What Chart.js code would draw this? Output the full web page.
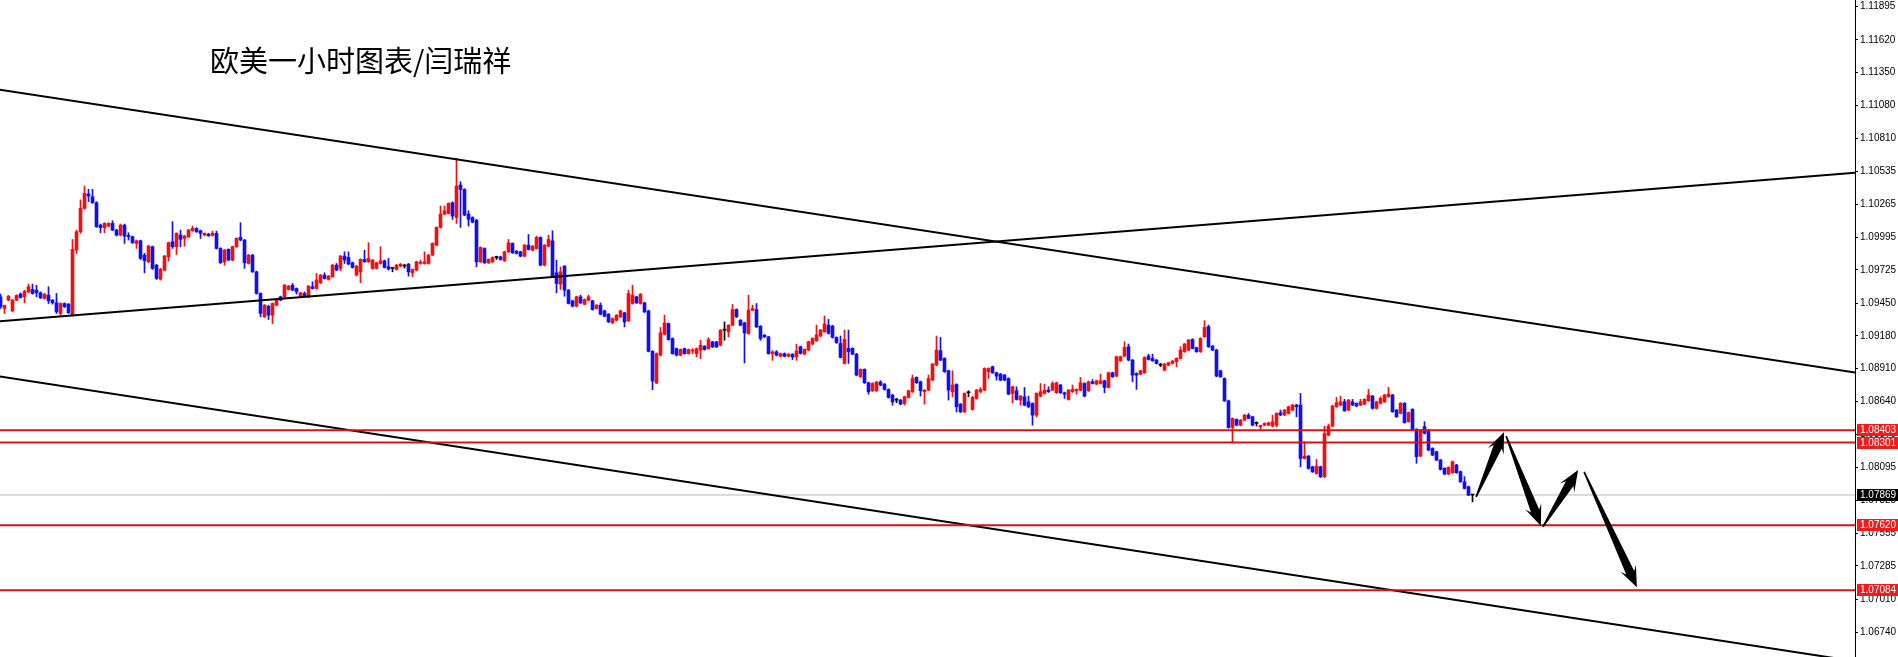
<!DOCTYPE html>
<html>
<head>
<meta charset="utf-8">
<script src="https://cdn.jsdelivr.net/npm/chart.js@4/dist/chart.umd.min.js"></script>
<style>
html,body{margin:0;padding:0;background:#fff;overflow:hidden}
#wrap{position:relative;width:1898px;height:657px;background:#fff}
#title{position:absolute;left:210px;top:45px;font-family:"Noto Sans CJK SC","Noto Sans",sans-serif;font-size:29px;line-height:29px;color:#000;white-space:nowrap}
canvas{display:block}
</style>
</head>
<body>
<div id="wrap">
<canvas id="c" width="1898" height="657"></canvas>
<div id="title">欧美一小时图表/闫瑞祥</div>
</div>
<script>
// ---- EURUSD H1 candles ----
const opens = [
1.09502,1.09406,1.09475,1.09387,1.09475,1.09524,1.09502,1.09543,1.09563,1.09557,
1.09535,1.09488,1.09516,1.09475,1.09453,1.09365,1.09447,1.09442,1.09351,1.09887,
1.10038,1.10231,1.10349,1.10327,1.10278,1.10093,1.10072,1.10085,1.10107,1.10052,
1.10011,1.10093,1.10008,1.09997,1.09942,1.09964,1.09846,1.09791,1.09915,1.09763,
1.09648,1.09722,1.09832,1.09956,1.09915,1.10011,1.09983,1.09997,1.10047,1.10066,
1.10047,1.10011,1.10019,1.10008,1.10025,1.09901,1.09791,1.09893,1.09805,1.09915,
1.09992,1.09970,1.09777,1.09846,1.09708,1.09530,1.09337,1.09425,1.09351,1.09433,
1.09502,1.09502,1.09563,1.09598,1.09571,1.09502,1.09530,1.09502,1.09585,1.09571,
1.09618,1.09681,1.09645,1.09667,1.09763,1.09736,1.09838,1.09827,1.09783,1.09681,
1.09708,1.09810,1.09791,1.09736,1.09736,1.09777,1.09799,1.09750,1.09736,1.09728,
1.09755,1.09755,1.09771,1.09700,1.09722,1.09777,1.09777,1.09777,1.09846,1.09928,
1.10074,1.10184,1.10189,1.10277,1.10156,1.10423,1.10387,1.10184,1.10156,1.10134,
1.09790,1.09900,1.09782,1.09790,1.09826,1.09832,1.09799,1.09873,1.09942,1.09878,
1.09873,1.09837,1.09928,1.09887,1.09900,1.09991,1.09763,1.09920,1.09964,1.09700,
1.09606,1.09755,1.09557,1.09469,1.09425,1.09502,1.09441,1.09474,1.09469,1.09406,
1.09433,1.09386,1.09359,1.09287,1.09309,1.09337,1.09370,1.09304,1.09447,1.09502,
1.09447,1.09452,1.09386,1.09053,1.08792,1.09021,1.09194,1.09282,1.09158,1.09075,
1.09021,1.09075,1.09034,1.09056,1.09034,1.09062,1.09095,1.09075,1.09131,1.09131,
1.09103,1.09227,1.09213,1.09268,1.09397,1.09309,1.09287,1.09199,1.09392,1.09397,
1.09260,1.09186,1.09172,1.09034,1.09048,1.09012,1.09034,1.09012,1.09029,1.09007,
1.09091,1.09030,1.09063,1.09113,1.09140,1.09179,1.09214,1.09269,1.09261,1.09168,
1.09118,1.08953,1.09077,1.09077,1.09030,1.08843,1.08904,1.08794,1.08728,1.08728,
1.08800,1.08783,1.08739,1.08692,1.08651,1.08651,1.08623,1.08673,1.08720,1.08838,
1.08802,1.08720,1.08733,1.08816,1.08939,1.09058,1.08995,1.08893,1.08720,1.08780,
1.08618,1.08554,1.08711,1.08574,1.08665,1.08720,1.08733,1.08885,1.08926,1.08876,
1.08865,1.08857,1.08829,1.08706,1.08728,1.08651,1.08678,1.08637,1.08623,1.08527,
1.08684,1.08706,1.08733,1.08733,1.08711,1.08775,1.08711,1.08656,1.08720,1.08728,
1.08733,1.08788,1.08728,1.08802,1.08783,1.08788,1.08810,1.08755,1.08876,1.08849,
1.08975,1.09014,1.09091,1.08981,1.08871,1.08865,1.08876,1.09014,1.08995,1.08981,
1.08939,1.08898,1.08939,1.08953,1.08967,1.08995,1.09050,1.09063,1.09151,1.09083,
1.09050,1.09173,1.09256,1.09096,1.09063,1.08893,1.08829,1.08645,1.08425,1.08491,
1.08444,1.08486,1.08527,1.08514,1.08459,1.08431,1.08445,1.08445,1.08437,1.08445,
1.08547,1.08528,1.08541,1.08569,1.08610,1.08610,1.08170,1.08189,1.08101,1.08046,
1.08101,1.08019,1.08362,1.08437,1.08596,1.08610,1.08637,1.08569,1.08637,1.08624,
1.08610,1.08618,1.08646,1.08684,1.08583,1.08624,1.08637,1.08679,1.08693,1.08569,
1.08542,1.08625,1.08473,1.08575,1.08410,1.08190,1.08432,1.08405,1.08253,1.08226,
1.08157,1.08089,1.08042,1.08053,1.08116,1.08061,1.07978,1.07937,1.07869
];
const highs = [
1.09524,1.09433,1.09513,1.09480,1.09519,1.09535,1.09557,1.09607,1.09607,1.09598,
1.09543,1.09530,1.09585,1.09480,1.09530,1.09453,1.09453,1.09447,1.09975,1.10052,
1.10300,1.10415,1.10388,1.10388,1.10286,1.10102,1.10113,1.10113,1.10129,1.10058,
1.10102,1.10102,1.10030,1.10003,1.09970,1.09970,1.09860,1.09926,1.09920,1.09769,
1.09736,1.09843,1.09953,1.10121,1.10030,1.10052,1.10008,1.10058,1.10085,1.10072,
1.10052,1.10030,1.10025,1.10044,1.10044,1.09907,1.09893,1.09898,1.09920,1.09989,
1.10113,1.09975,1.09851,1.09851,1.09714,1.09535,1.09439,1.09431,1.09453,1.09488,
1.09508,1.09604,1.09596,1.09612,1.09576,1.09541,1.09543,1.09596,1.09626,1.09695,
1.09686,1.09700,1.09678,1.09769,1.09777,1.09843,1.09873,1.09873,1.09788,1.09761,
1.09816,1.09887,1.09948,1.09810,1.09788,1.09915,1.09805,1.09819,1.09744,1.09769,
1.09777,1.09771,1.09777,1.09733,1.09796,1.09804,1.09873,1.09851,1.09947,1.10079,
1.10250,1.10250,1.10277,1.10285,1.10643,1.10451,1.10393,1.10211,1.10162,1.10140,
1.09914,1.09906,1.09815,1.09832,1.09837,1.09837,1.09878,1.09975,1.09947,1.09884,
1.09878,1.09933,1.10016,1.09925,1.10002,1.09997,1.09933,1.10010,1.10046,1.09804,
1.09749,1.09760,1.09562,1.09474,1.09507,1.09516,1.09485,1.09516,1.09474,1.09439,
1.09452,1.09392,1.09364,1.09329,1.09356,1.09392,1.09375,1.09557,1.09598,1.09507,
1.09529,1.09458,1.09392,1.09059,1.09040,1.09249,1.09351,1.09287,1.09164,1.09081,
1.09073,1.09081,1.09073,1.09075,1.09081,1.09144,1.09100,1.09166,1.09136,1.09136,
1.09232,1.09295,1.09273,1.09439,1.09403,1.09315,1.09293,1.09516,1.09433,1.09447,
1.09265,1.09191,1.09177,1.09059,1.09059,1.09040,1.09040,1.09034,1.09034,1.09111,
1.09096,1.09074,1.09137,1.09165,1.09269,1.09234,1.09344,1.09316,1.09267,1.09173,
1.09179,1.09228,1.09228,1.09083,1.09036,1.08909,1.08909,1.08799,1.08794,1.08806,
1.08811,1.08788,1.08744,1.08698,1.08665,1.08656,1.08684,1.08733,1.08857,1.08843,
1.08808,1.08739,1.08857,1.08953,1.09179,1.09168,1.09000,1.08898,1.08893,1.08786,
1.08623,1.08711,1.08728,1.08684,1.08739,1.08755,1.08917,1.08917,1.08931,1.08882,
1.08871,1.08863,1.08835,1.08766,1.08761,1.08689,1.08755,1.08684,1.08629,1.08711,
1.08788,1.08783,1.08761,1.08802,1.08799,1.08780,1.08717,1.08739,1.08775,1.08744,
1.08838,1.08794,1.08808,1.08821,1.08816,1.08865,1.08816,1.08882,1.08882,1.09014,
1.09014,1.09132,1.09113,1.08986,1.08876,1.08898,1.09008,1.09030,1.09030,1.08986,
1.08953,1.08953,1.08964,1.08978,1.09000,1.09091,1.09118,1.09151,1.09157,1.09088,
1.09165,1.09305,1.09269,1.09102,1.09069,1.08898,1.08835,1.08651,1.08505,1.08497,
1.08491,1.08533,1.08541,1.08519,1.08472,1.08445,1.08464,1.08470,1.08527,1.08547,
1.08569,1.08574,1.08602,1.08616,1.08616,1.08706,1.08308,1.08195,1.08107,1.08162,
1.08107,1.08437,1.08453,1.08610,1.08673,1.08684,1.08657,1.08657,1.08657,1.08629,
1.08657,1.08662,1.08739,1.08690,1.08643,1.08679,1.08698,1.08756,1.08698,1.08574,
1.08630,1.08630,1.08553,1.08581,1.08416,1.08410,1.08473,1.08410,1.08259,1.08231,
1.08163,1.08094,1.08102,1.08149,1.08122,1.08067,1.08020,1.07943,1.07874
];
const lows = [
1.09406,1.09365,1.09469,1.09378,1.09469,1.09491,1.09453,1.09535,1.09524,1.09502,
1.09488,1.09483,1.09447,1.09442,1.09365,1.09343,1.09414,1.09365,1.09343,1.09860,
1.10025,1.10223,1.10286,1.10272,1.10074,1.10030,1.10030,1.10080,1.10047,1.10003,
1.10003,1.09942,1.09970,1.09942,1.09901,1.09810,1.09700,1.09783,1.09728,1.09645,
1.09640,1.09717,1.09796,1.09901,1.09851,1.09915,1.09920,1.09992,1.10041,1.10033,
1.09983,1.10005,1.10000,1.10003,1.09896,1.09777,1.09763,1.09799,1.09799,1.09909,
1.09964,1.09736,1.09772,1.09703,1.09524,1.09337,1.09332,1.09315,1.09282,1.09428,
1.09469,1.09497,1.09557,1.09552,1.09524,1.09497,1.09502,1.09497,1.09565,1.09565,
1.09612,1.09648,1.09640,1.09662,1.09717,1.09717,1.09777,1.09766,1.09739,1.09675,
1.09618,1.09786,1.09786,1.09731,1.09731,1.09772,1.09739,1.09722,1.09708,1.09722,
1.09749,1.09738,1.09672,1.09667,1.09716,1.09771,1.09771,1.09771,1.09840,1.09923,
1.10068,1.10178,1.10184,1.10140,1.10107,1.10074,1.10170,1.10085,1.10112,1.09749,
1.09785,1.09777,1.09777,1.09785,1.09810,1.09804,1.09793,1.09867,1.09859,1.09854,
1.09832,1.09832,1.09887,1.09881,1.09895,1.09757,1.09757,1.09914,1.09661,1.09535,
1.09562,1.09507,1.09443,1.09419,1.09419,1.09447,1.09436,1.09469,1.09392,1.09400,
1.09353,1.09337,1.09290,1.09282,1.09304,1.09331,1.09254,1.09298,1.09441,1.09447,
1.09441,1.09372,1.09048,1.08737,1.08787,1.09015,1.09188,1.09144,1.09029,1.09015,
1.09015,1.09029,1.09029,1.09034,1.09007,1.08993,1.09062,1.09070,1.09084,1.09084,
1.09098,1.09144,1.09172,1.09263,1.09331,1.09263,1.08957,1.09194,1.09386,1.09249,
1.09144,1.09166,1.09029,1.08979,1.09015,1.09007,1.09007,1.09007,1.08985,1.08979,
1.09030,1.09025,1.09058,1.09107,1.09135,1.09173,1.09209,1.09195,1.09162,1.09118,
1.08997,1.08948,1.08953,1.09025,1.08851,1.08838,1.08788,1.08700,1.08722,1.08722,
1.08769,1.08733,1.08667,1.08609,1.08629,1.08612,1.08609,1.08667,1.08714,1.08788,
1.08684,1.08618,1.08728,1.08810,1.08934,1.08975,1.08879,1.08651,1.08678,1.08554,
1.08549,1.08549,1.08678,1.08568,1.08659,1.08711,1.08728,1.08829,1.08871,1.08816,
1.08810,1.08810,1.08695,1.08629,1.08651,1.08609,1.08604,1.08588,1.08444,1.08513,
1.08678,1.08700,1.08714,1.08728,1.08706,1.08706,1.08665,1.08651,1.08714,1.08700,
1.08728,1.08678,1.08722,1.08783,1.08777,1.08783,1.08711,1.08750,1.08838,1.08843,
1.08970,1.09008,1.08975,1.08802,1.08739,1.08860,1.08871,1.08981,1.08970,1.08948,
1.08926,1.08893,1.08934,1.08948,1.08926,1.08989,1.09044,1.09058,1.09072,1.09044,
1.09044,1.09168,1.09085,1.09058,1.08843,1.08838,1.08640,1.08420,1.08307,1.08439,
1.08439,1.08480,1.08497,1.08439,1.08437,1.08409,1.08439,1.08439,1.08431,1.08431,
1.08522,1.08522,1.08536,1.08563,1.08514,1.08101,1.08165,1.08082,1.08055,1.08041,
1.08013,1.08013,1.08357,1.08431,1.08591,1.08605,1.08558,1.08563,1.08605,1.08596,
1.08605,1.08613,1.08640,1.08577,1.08577,1.08618,1.08632,1.08673,1.08550,1.08508,
1.08537,1.08460,1.08468,1.08405,1.08130,1.08185,1.08372,1.08234,1.08193,1.08152,
1.08075,1.08036,1.08036,1.08047,1.08047,1.07973,1.07918,1.07863,1.07813
];
const closes = [
1.09420,1.09433,1.09508,1.09475,1.09513,1.09497,1.09546,1.09585,1.09530,1.09535,
1.09494,1.09524,1.09469,1.09453,1.09378,1.09447,1.09420,1.09370,1.09893,1.10038,
1.10231,1.10355,1.10333,1.10278,1.10080,1.10072,1.10107,1.10107,1.10052,1.10011,
1.10093,1.10003,1.09997,1.09948,1.09964,1.09819,1.09799,1.09920,1.09736,1.09653,
1.09730,1.09838,1.09948,1.09915,1.10025,1.09975,1.10003,1.10052,1.10066,1.10038,
1.10025,1.10025,1.10005,1.10025,1.09901,1.09783,1.09887,1.09805,1.09915,1.09983,
1.09970,1.09783,1.09846,1.09708,1.09530,1.09365,1.09433,1.09351,1.09447,1.09475,
1.09475,1.09598,1.09590,1.09557,1.09543,1.09535,1.09508,1.09590,1.09571,1.09640,
1.09681,1.09653,1.09673,1.09763,1.09722,1.09838,1.09805,1.09772,1.09744,1.09755,
1.09810,1.09791,1.09819,1.09805,1.09783,1.09799,1.09744,1.09731,1.09736,1.09763,
1.09771,1.09755,1.09708,1.09727,1.09790,1.09788,1.09790,1.09846,1.09942,1.10074,
1.10184,1.10211,1.10272,1.10167,1.10415,1.10387,1.10176,1.10140,1.10118,1.09790,
1.09909,1.09782,1.09810,1.09826,1.09826,1.09810,1.09873,1.09947,1.09865,1.09859,
1.09837,1.09928,1.09892,1.09920,1.09991,1.09763,1.09928,1.09975,1.09667,1.09612,
1.09708,1.09557,1.09447,1.09425,1.09502,1.09452,1.09480,1.09502,1.09397,1.09433,
1.09359,1.09342,1.09296,1.09323,1.09350,1.09386,1.09296,1.09529,1.09516,1.09452,
1.09524,1.09378,1.09053,1.08809,1.09034,1.09205,1.09287,1.09150,1.09034,1.09021,
1.09067,1.09034,1.09067,1.09062,1.09075,1.09103,1.09067,1.09150,1.09089,1.09089,
1.09227,1.09227,1.09268,1.09397,1.09337,1.09268,1.09205,1.09392,1.09406,1.09254,
1.09158,1.09172,1.09034,1.09048,1.09021,1.09034,1.09012,1.09029,1.09007,1.09056,
1.09036,1.09069,1.09132,1.09159,1.09187,1.09228,1.09278,1.09201,1.09168,1.09124,
1.09003,1.09151,1.09050,1.09030,1.08857,1.08904,1.08794,1.08720,1.08788,1.08800,
1.08775,1.08739,1.08673,1.08637,1.08651,1.08618,1.08678,1.08728,1.08829,1.08794,
1.08728,1.08733,1.08829,1.08948,1.09063,1.08981,1.08885,1.08733,1.08775,1.08596,
1.08554,1.08706,1.08711,1.08673,1.08733,1.08739,1.08912,1.08912,1.08876,1.08849,
1.08816,1.08816,1.08700,1.08761,1.08656,1.08684,1.08609,1.08596,1.08527,1.08706,
1.08720,1.08733,1.08720,1.08788,1.08794,1.08711,1.08700,1.08733,1.08739,1.08739,
1.08794,1.08684,1.08802,1.08788,1.08810,1.08810,1.08755,1.08876,1.08843,1.09008,
1.09008,1.09085,1.08981,1.08857,1.08857,1.08893,1.09003,1.08986,1.08975,1.08953,
1.08939,1.08948,1.08959,1.08972,1.08995,1.09063,1.09113,1.09146,1.09077,1.09050,
1.09159,1.09250,1.09091,1.09063,1.08849,1.08843,1.08645,1.08425,1.08500,1.08444,
1.08486,1.08527,1.08500,1.08445,1.08459,1.08442,1.08459,1.08464,1.08472,1.08541,
1.08528,1.08569,1.08596,1.08610,1.08596,1.08170,1.08189,1.08088,1.08060,1.08107,
1.08019,1.08376,1.08437,1.08602,1.08629,1.08637,1.08563,1.08651,1.08610,1.08602,
1.08637,1.08657,1.08693,1.08583,1.08637,1.08665,1.08693,1.08701,1.08555,1.08514,
1.08625,1.08465,1.08548,1.08410,1.08185,1.08405,1.08377,1.08240,1.08198,1.08157,
1.08080,1.08042,1.08097,1.08144,1.08053,1.07978,1.07923,1.07868,1.07869
];

// ---- price axis ticks ----
const tickLabels = ['1.11895','1.11620','1.11350','1.11080','1.10810','1.10535','1.10265','1.09995','1.09725','1.09450',
  '1.09180','1.08910','1.08640','1.08370','1.08095','1.07825','1.07555','1.07285','1.07010','1.06740'];

// ---- horizontal levels & current price ----
const levelLines = [1.08403, 1.08301, 1.07620, 1.07084];
const currentPrice = 1.07869;

// ---- trend lines: [barIndex, price] pairs ----
const trendUpperFalling = [[-2, 1.11218], [466, 1.08866]];
const trendRising = [[-2, 1.09296], [466, 1.10530]];
const trendLowerFalling = [[-2, 1.08855], [466, 1.06487]];

// ---- projected path arrows: [fromIndex, fromPrice, toIndex, toPrice] ----
const arrowPath = [
  [368.9, 1.07853, 375.9, 1.08388],
  [376.4, 1.08355, 385.1, 1.07614],
  [385.6, 1.07606, 394.4, 1.08075],
  [395.9, 1.08059, 409.1, 1.07108]
];

const Y_MIN = 1.06534, Y_MAX = 1.11948;
const X_MIN = -0.125, X_MAX = 463.625;

const RED = '#ee1111', BLUE = '#1010ee', BLACK = '#000000';
const LINE_RED = '#d41414', TAG_RED = '#ee1c1c';

function candleColor(i) {
  if (closes[i] > opens[i]) return RED;
  if (closes[i] < opens[i]) return BLUE;
  return BLACK;
}

const idx = opens.map((_, i) => i);
const bodyData = idx.map(i => ({x: i, y: [opens[i], closes[i]]}));
const wickData = idx.map(i => ({x: i, y: [lows[i], highs[i]]}));

function lineDS(points, color, width, order) {
  return {
    type: 'line',
    data: points.map(p => ({x: p[0], y: p[1]})),
    borderColor: color, borderWidth: width, pointRadius: 0,
    tension: 0, fill: false, order: order
  };
}

const datasets = [];
levelLines.forEach(v => datasets.push(lineDS([[X_MIN, v], [X_MAX, v]], LINE_RED, 2, 0)));
datasets.push(lineDS(trendUpperFalling, '#000', 2, 0));
datasets.push(lineDS(trendRising, '#000', 2, 0));
datasets.push(lineDS(trendLowerFalling, '#000', 2, 0));
datasets.push(lineDS([[X_MIN, currentPrice], [X_MAX, currentPrice]], '#b8b8b8', 1, 5));
datasets.push({
  type: 'bar', data: wickData, grouped: false,
  barThickness: 1, maxBarThickness: 1, borderWidth: 0,
  backgroundColor: c => candleColor(c.dataIndex), order: 3
});
datasets.push({
  type: 'bar', data: bodyData, grouped: false,
  barThickness: 3, maxBarThickness: 3, minBarLength: 1, borderWidth: 0,
  backgroundColor: c => candleColor(c.dataIndex), order: 2
});

function drawArrow(ctx, x1, y1, x2, y2) {
  const dx = x2 - x1, dy = y2 - y1, len = Math.hypot(dx, dy);
  const ux = dx / len, uy = dy / len, nx = -uy, ny = ux;
  const head = 21, hw = 8.5, sw = 4.4, tw = 0.8, notch = 5;
  const bx = x2 - ux * head, by = y2 - uy * head;
  const nbx = bx + ux * notch, nby = by + uy * notch;
  ctx.beginPath();
  ctx.moveTo(x1 + nx * tw, y1 + ny * tw);
  ctx.lineTo(nbx + nx * sw, nby + ny * sw);
  ctx.lineTo(bx + nx * hw, by + ny * hw);
  ctx.lineTo(x2, y2);
  ctx.lineTo(bx - nx * hw, by - ny * hw);
  ctx.lineTo(nbx - nx * sw, nby - ny * sw);
  ctx.lineTo(x1 - nx * tw, y1 - ny * tw);
  ctx.closePath();
  ctx.fill();
}

const overlay = {
  id: 'overlay',
  afterDatasetsDraw(chart) {
    const {ctx, scales: {x, y}} = chart;
    ctx.save();
    ctx.fillStyle = '#000';
    arrowPath.forEach(a => drawArrow(ctx,
      x.getPixelForValue(a[0]), y.getPixelForValue(a[1]),
      x.getPixelForValue(a[2]), y.getPixelForValue(a[3])));
    ctx.restore();
  },
  afterDraw(chart) {
    const {ctx, scales: {y}} = chart;
    const left = chart.chartArea.right + 2;
    ctx.save();
    ctx.font = '10px "Liberation Sans", Arial, sans-serif';
    ctx.textBaseline = 'middle';
    const tags = levelLines.map(v => ({v: v, bg: TAG_RED})).concat([{v: currentPrice, bg: '#000'}]);
    tags.forEach(t => {
      const py = Math.round(y.getPixelForValue(t.v));
      ctx.fillStyle = t.bg;
      ctx.fillRect(left, py - 6, chart.width - left, 12);
      ctx.fillStyle = '#fff';
      ctx.fillText(t.v.toFixed(5), left + 3, py + 0.5);
    });
    ctx.restore();
  }
};

new Chart(document.getElementById('c'), {
  type: 'bar',
  data: {datasets: datasets},
  options: {
    responsive: false,
    animation: false,
    devicePixelRatio: 1,
    events: [],
    layout: {padding: 0},
    plugins: {legend: {display: false}, tooltip: {enabled: false}},
    scales: {
      x: {
        type: 'linear', min: X_MIN, max: X_MAX, display: false,
        offset: false, grid: {offset: false}
      },
      y: {
        type: 'linear', position: 'right', min: Y_MIN, max: Y_MAX,
        beginAtZero: false,
        border: {display: true, color: '#000', width: 1},
        grid: {drawOnChartArea: false, tickLength: 3, color: '#000'},
        ticks: {
          autoSkip: false, padding: 2, color: '#000',
          font: {family: '"Liberation Sans", Arial, sans-serif', size: 10},
          callback: (v, i) => tickLabels[i]
        },
        afterBuildTicks: s => { s.ticks = tickLabels.map(t => ({value: parseFloat(t)})); },
        afterFit: s => { s.width = 43; s.paddingTop = 0; s.paddingBottom = 0; }
      }
    }
  },
  plugins: [overlay]
});
</script>
</body>
</html>
